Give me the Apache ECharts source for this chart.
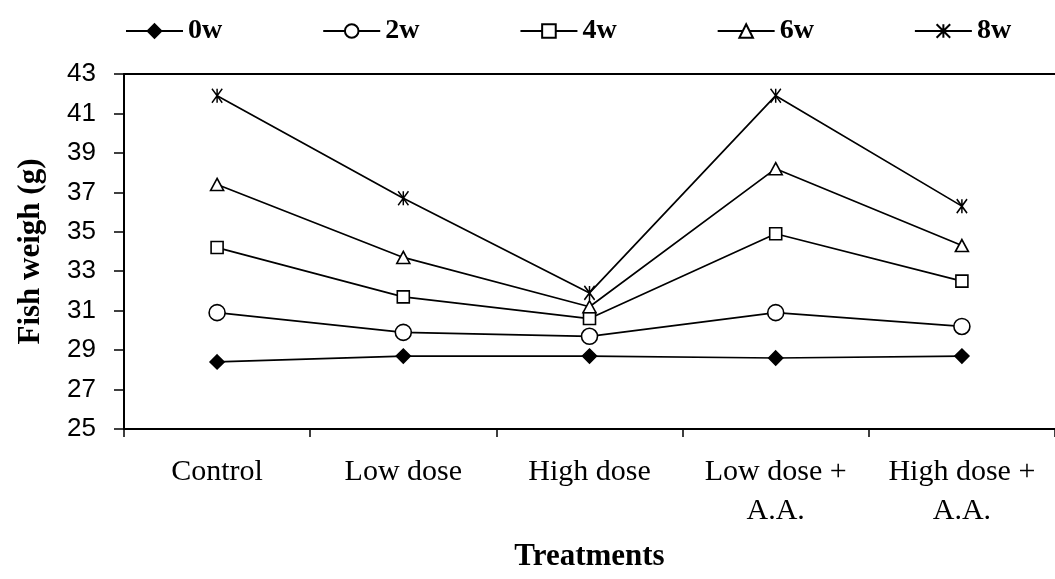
<!DOCTYPE html>
<html>
<head>
<meta charset="utf-8">
<script src="https://cdn.jsdelivr.net/npm/echarts@6/dist/echarts.min.js"></script>
<style>
  html, body { margin: 0; padding: 0; background: #fff; }
  #main { width: 1055px; height: 579px; }
</style>
</head>
<body>
<div id="main"></div>
<script>
// data
var categories = ['Control', 'Low dose', 'High dose', 'Low dose +\nA.A.', 'High dose +\nA.A.'];
var w0 = [28.4, 28.7, 28.7, 28.6, 28.7];
var w2 = [30.9, 29.9, 29.7, 30.9, 30.2];
var w4 = [34.2, 31.7, 30.6, 34.9, 32.5];
var w6 = [37.4, 33.7, 31.2, 38.2, 34.3];
var w8 = [41.9, 36.7, 31.9, 41.9, 36.3];
var seriesNames = ['0w', '2w', '4w', '6w', '8w'];
var yTicks = { min: 25, max: 43, interval: 2 };

var serif = 'Liberation Serif';
var asterisk = 'path://M0,0L12,14M12,0L0,14M6,0L6,14';

function lineSeries(name, data, symbol, size, fill) {
    return {
        name: name,
        type: 'line',
        data: data,
        symbol: symbol,
        symbolSize: size,
        symbolKeepAspect: true,
        showAllSymbol: true,
        lineStyle: { color: '#000', width: 1.7 },
        itemStyle: { color: fill, borderColor: '#000', borderWidth: 1.6 },
        emphasis: { disabled: true },
        z: 3
    };
}

var myChart = echarts.init(document.getElementById('main'));

var option = {
    animation: false,
    backgroundColor: '#fff',
    legend: {
        data: seriesNames,
        left: 120,
        top: 12,
        itemWidth: 57,
        itemHeight: 17,
        itemGap: 100,
        textStyle: { fontFamily: serif, fontWeight: 'bold', fontSize: 28, color: '#000' }
    },
    grid: { left: 124, top: 74, width: 940, height: 355 },
    xAxis: [{
        type: 'category',
        data: categories,
        boundaryGap: true,
        axisLine: { lineStyle: { color: '#000', width: 2 } },
        axisTick: { show: true, length: 8, lineStyle: { color: '#000', width: 1.5 } },
        axisLabel: {
            fontFamily: serif, fontSize: 30, color: '#000',
            margin: 24, lineHeight: 39, interval: 0
        },
        name: 'Treatments',
        nameLocation: 'middle',
        nameGap: 112,
        nameTextStyle: { fontFamily: serif, fontWeight: 'bold', fontSize: 31, color: '#000' }
    }, {
        type: 'category',
        data: categories,
        position: 'top',
        axisLine: { lineStyle: { color: '#000', width: 2 } },
        axisTick: { show: false },
        axisLabel: { show: false }
    }],
    yAxis: {
        type: 'value',
        min: yTicks.min,
        max: yTicks.max,
        interval: yTicks.interval,
        axisLine: { show: true, lineStyle: { color: '#000', width: 2 } },
        axisTick: { show: true, length: 10, lineStyle: { color: '#000', width: 1.5 } },
        splitLine: { show: false },
        axisLabel: { fontFamily: 'Liberation Sans', fontSize: 26, color: '#000', margin: 28 },
        name: 'Fish weigh (g)',
        nameLocation: 'middle',
        nameGap: 78,
        nameTextStyle: { fontFamily: serif, fontWeight: 'bold', fontSize: 31, color: '#000' }
    },
    series: [
        lineSeries('0w', w0, 'diamond', [14, 14], '#000'),
        lineSeries('2w', w2, 'circle', 16, '#fff'),
        lineSeries('4w', w4, 'rect', 12, '#fff'),
        lineSeries('6w', w6, 'triangle', [13, 12], '#fff'),
        lineSeries('8w', w8, asterisk, [12, 14], 'none')
    ]
};

myChart.setOption(option);
</script>
</body>
</html>
